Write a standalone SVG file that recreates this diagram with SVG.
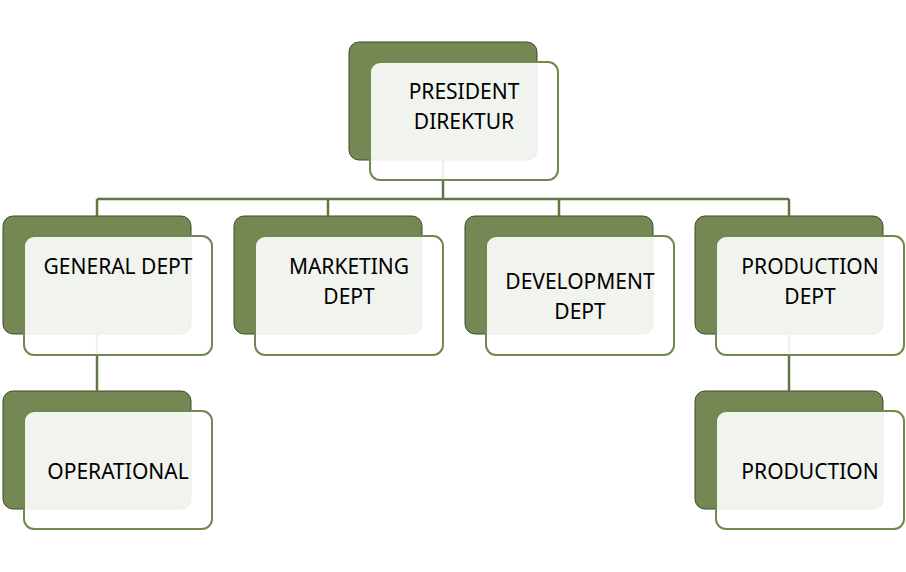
<svg xmlns="http://www.w3.org/2000/svg" width="906" height="572" viewBox="0 0 906 572">
<style>
.back{fill:#758753;stroke:#3d4a2c;stroke-width:1}
.front{fill:#ffffff;fill-opacity:0.9;stroke:#6f8a4c;stroke-width:2}
.conn{fill:none;stroke:#5f7741;stroke-width:2.5}
text{font-family:"Noto Sans","Open Sans",sans-serif;font-size:21px;fill:#000;text-anchor:middle}
</style>
<rect width="906" height="572" fill="#ffffff"/>
<g id="backs">
<rect class="back" x="349" y="42" width="188" height="118" rx="10"/>
<rect class="back" x="3" y="216" width="188" height="118" rx="10"/>
<rect class="back" x="234" y="216" width="188" height="118" rx="10"/>
<rect class="back" x="465" y="216" width="188" height="118" rx="10"/>
<rect class="back" x="695" y="216" width="188" height="118" rx="10"/>
<rect class="back" x="3" y="391" width="188" height="118" rx="10"/>
<rect class="back" x="695" y="391" width="188" height="118" rx="10"/>
</g>
<g id="connectors">
<path class="conn" d="M443 160V199M97 199H789M97 199V216M328 199V216M559 199V216M789 199V216"/>
<path class="conn" d="M97 334V391"/>
<path class="conn" d="M789 334V391"/>
</g>
<g id="president">
<rect class="front" x="370" y="62" width="188" height="118" rx="10"/>
<text x="464" y="99">PRESIDENT</text>
<text x="464" y="129">DIREKTUR</text>
</g>
<g id="general">
<rect class="front" x="24" y="236" width="188" height="119" rx="10"/>
<text x="118" y="274">GENERAL DEPT</text>
</g>
<g id="marketing">
<rect class="front" x="255" y="236" width="188" height="119" rx="10"/>
<text x="349" y="274">MARKETING</text>
<text x="349" y="304">DEPT</text>
</g>
<g id="development">
<rect class="front" x="486" y="236" width="188" height="119" rx="10"/>
<text x="580" y="289">DEVELOPMENT</text>
<text x="580" y="319">DEPT</text>
</g>
<g id="production-dept">
<rect class="front" x="716" y="236" width="188" height="119" rx="10"/>
<text x="810" y="274">PRODUCTION</text>
<text x="810" y="304">DEPT</text>
</g>
<g id="operational">
<rect class="front" x="24" y="411" width="188" height="118" rx="10"/>
<text x="118" y="479">OPERATIONAL</text>
</g>
<g id="production">
<rect class="front" x="716" y="411" width="188" height="118" rx="10"/>
<text x="810" y="479">PRODUCTION</text>
</g>
</svg>
